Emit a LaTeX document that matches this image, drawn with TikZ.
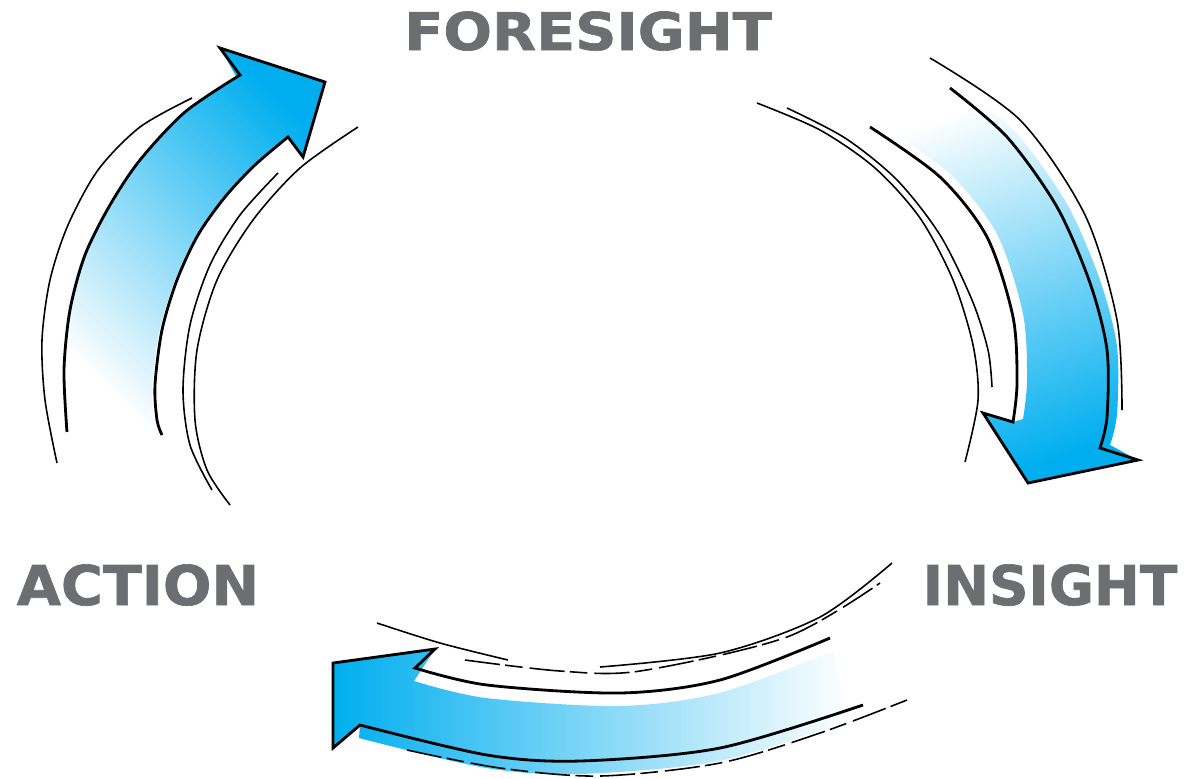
\documentclass[tikz,border=0pt]{standalone}
\usepackage{fontspec}
\newfontfamily\labelfont[FakeBold=1.2]{DejaVu Sans Bold}
\definecolor{cycleblue}{HTML}{00AEEF}
\definecolor{labelgray}{HTML}{6D6E71}
\tikzset{
  outline/.style={line width=0.8pt, line join=miter},
  sketch/.style={line width=0.45pt},
  sketchdash/.style={sketch, dash pattern=on 10pt off 1.5pt on 5pt off 2pt},
  stagelabel/.style={text=labelgray, inner sep=0pt, anchor=base,
    font=\labelfont\fontsize{15.6}{16}\selectfont},
}

\begin{document}
\begin{tikzpicture}[x=0.01cm, y=-0.01cm]
        \useasboundingbox (0,0) rectangle (1186,778);

        % labels
        \node[stagelabel, font=\labelfont\fontsize{14.8}{15}\selectfont, xscale=1.1] (foresight) at (588,50) {FORESIGHT};
        \node[stagelabel, xscale=1.04] (action) at (138,605) {ACTION};
        \node[stagelabel, xscale=1.0] (insight) at (1050,605) {INSIGHT};

        % left arrow: action -> foresight
        \coordinate (LtipA) at (325,82);
        \coordinate (LbarbO) at (220,48);
        \coordinate (LbarbI) at (303,157);
        \coordinate (LnotchO) at (240,75);
        \coordinate (LnotchI) at (288,137);
        \shade[shift={(-3,3)}, top color=cycleblue, middle color=cycleblue!40, bottom color=white, shading angle=-45]
            plot[smooth] coordinates {(67,440) (64,370) (70,310) (85,255) (110,205) (140,160) (185,112) (240,75)}
            -- (LbarbO) -- (LtipA) -- (LbarbI) -- (LnotchI)
            -- plot[smooth] coordinates {(288,137) (255,165) (225,197) (198,235) (177,280) (162,330) (155,385) (157,420) (162,440)} -- cycle;
        \draw[outline] plot[smooth] coordinates {(67,432) (64,370) (70,310) (85,255) (110,205) (140,160) (185,112) (240,75)}
            -- (LbarbO) -- (LtipA) -- (LbarbI) -- (LnotchI)
            -- plot[smooth] coordinates {(288,137) (255,165) (225,197) (198,235) (177,280) (162,330) (155,385) (157,420) (162,435)};
        \draw[sketch] plot[smooth] coordinates {(57,463) (45,400) (42,340) (50,280) (68,225) (98,170) (140,127) (192,98)};
        \draw[sketch] plot[smooth] coordinates {(278,173) (240,215) (210,265) (190,325) (183,390) (190,445) (212,490)};
        \draw[sketch] plot[smooth] coordinates {(358,127) (300,168) (253,220) (217,280) (197,350) (195,420) (207,470) (230,505)};

        % right arrow: foresight -> insight
        \coordinate (RtipA) at (1028,483);
        \coordinate (RbarbO) at (1138,460);
        \coordinate (RbarbI) at (983,413);
        \coordinate (RnotchO) at (1100,448);
        \coordinate (RnotchI) at (1013,422);
        \shade[shift={(10,-3)}, top color=cycleblue, middle color=cycleblue!40, bottom color=white, shading angle=-160]
            plot[smooth] coordinates {(950,88) (1007,137) (1057,207) (1090,283) (1107,350) (1107,417) (1100,448)}
            -- (RbarbO) -- (RtipA) -- (RbarbI) -- (RnotchI)
            -- plot[smooth] coordinates {(1013,422) (1017,383) (1013,317) (987,237) (940,177) (870,127)} -- cycle;
        \draw[outline] plot[smooth] coordinates {(950,88) (1007,137) (1057,207) (1090,283) (1107,350) (1107,417) (1100,448)}
            -- (RbarbO) -- (RtipA) -- (RbarbI) -- (RnotchI)
            -- plot[smooth] coordinates {(1013,422) (1017,383) (1013,317) (987,237) (940,177) (870,127)};
        \draw[sketch] plot[smooth] coordinates {(930,58) (1020,120) (1085,215) (1117,320) (1122,410)};
        \draw[sketch] plot[smooth] coordinates {(757,103) (820,130) (875,168) (920,218) (953,280) (973,345) (978,400) (965,462)};
        \draw[sketch] plot[smooth] coordinates {(787,108) (845,138) (897,180) (940,235) (972,300) (988,350) (992,387)};

        % bottom arrow: insight -> action
        \coordinate (BbarbO) at (333,748);
        \coordinate (BbarbI) at (333,663);
        \coordinate (BbarbT) at (435,649);
        \coordinate (BnotchT) at (415,668);
        \coordinate (BnotchB) at (360,725);
        \shade[shift={(-1,13)}, top color=cycleblue, middle color=cycleblue!40, bottom color=white, shading angle=90]
            plot[smooth] coordinates {(835,638) (720,680) (620,693) (487,685) (415,668)}
            -- (BbarbT) -- (BbarbI) -- (BbarbO) -- (BnotchB)
            -- plot[smooth] coordinates {(360,725) (487,755) (580,761) (720,748) (850,708)} -- cycle;
        \draw[outline] plot[smooth] coordinates {(830,638) (720,680) (620,693) (487,685) (415,668)}
            -- (BbarbT) -- (BbarbI) -- (BbarbO) -- (BnotchB)
            -- plot[smooth] coordinates {(360,725) (487,755) (580,761) (720,748) (863,705)};
        \draw[sketch] plot[smooth] coordinates {(377,623) (440,643) (508,660)};
        \draw[sketch] plot[smooth] coordinates {(600,667) (720,653) (820,617) (892,563)};
        \draw[sketchdash] plot[smooth] coordinates {(465,660) (560,671) (640,671) (787,637) (880,583)};
        \draw[sketchdash] plot[smooth] coordinates {(407,750) (500,768) (600,776) (720,763) (820,733) (907,700)};
    \end{tikzpicture}
\end{document}
